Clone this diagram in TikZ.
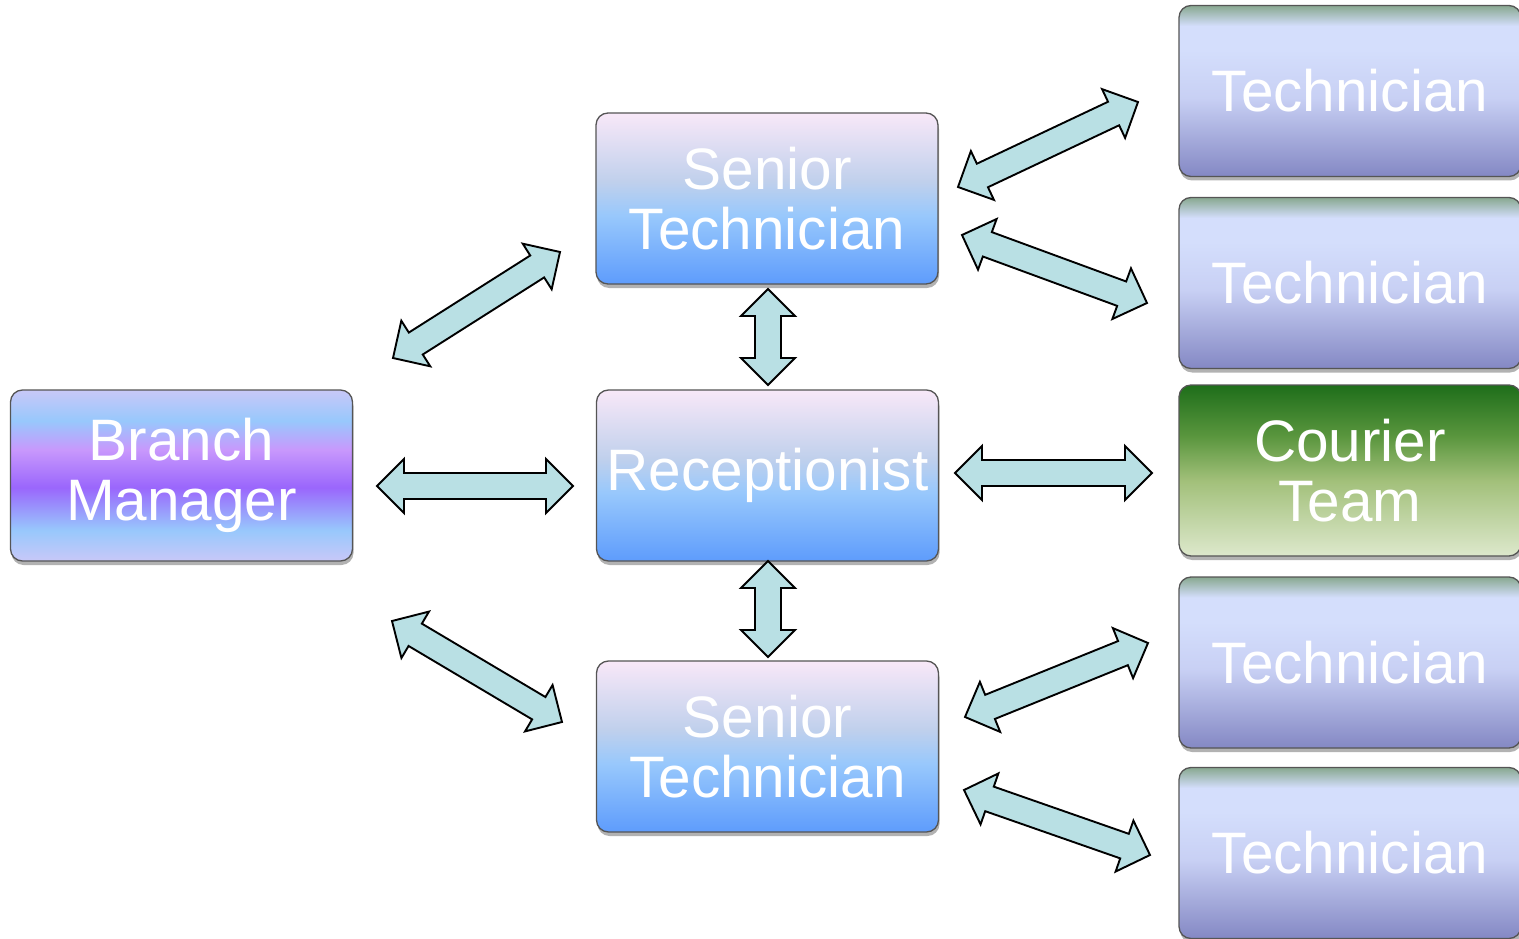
\documentclass[tikz,border=0pt]{standalone}
\usepackage{fontspec}
\setmainfont{Liberation Sans}
\usetikzlibrary{calc,shadows}
\definecolor{bmA}{HTML}{C8C8F8}
\definecolor{bmB}{HTML}{98C8FC}
\definecolor{bmC}{HTML}{C898FC}
\definecolor{bmD}{HTML}{9A66FC}
\definecolor{stA}{HTML}{F8E8F8}
\definecolor{stB}{HTML}{C0D0EC}
\definecolor{stC}{HTML}{98C8FC}
\definecolor{stD}{HTML}{5E9CFC}
\definecolor{tcA}{HTML}{88A890}
\definecolor{tcB}{HTML}{D4DEFC}
\definecolor{tcC}{HTML}{C8D0F4}
\definecolor{tcD}{HTML}{8488C4}
\definecolor{coA}{HTML}{1E6E1A}
\definecolor{coB}{HTML}{5A963E}
\definecolor{coC}{HTML}{A2C07A}
\definecolor{coD}{HTML}{DDE8CC}
\definecolor{arrfill}{HTML}{B9E0E4}
\definecolor{boxline}{HTML}{555555}
\pgfdeclareverticalshading{bmshade}{100bp}{color(0bp)=(bmA); color(25bp)=(bmA); color(34bp)=(bmB); color(46.5bp)=(bmD); color(57.5bp)=(bmC); color(66bp)=(bmB); color(75bp)=(bmA); color(100bp)=(bmA)}
\pgfdeclareverticalshading{stshade}{100bp}{color(0bp)=(stD); color(25bp)=(stD); color(45bp)=(stC); color(55bp)=(stB); color(75bp)=(stA); color(100bp)=(stA)}
\pgfdeclareverticalshading{tcshade}{100bp}{color(0bp)=(tcD); color(25bp)=(tcD); color(48bp)=(tcC); color(62bp)=(tcB); color(69bp)=(tcB); color(75bp)=(tcA); color(100bp)=(tcA)}
\pgfdeclareverticalshading{coshade}{100bp}{color(0bp)=(coD); color(25bp)=(coD); color(47bp)=(coC); color(60bp)=(coB); color(75bp)=(coA); color(100bp)=(coA)}
\tikzset{
  box/.style={draw=boxline, line width=1.3pt, rounded corners=12pt,
    minimum width=342pt, minimum height=171pt, inner sep=0pt, align=center,
    text=white, font=\fontsize{58.5}{60.5}\selectfont,
    drop shadow={shadow xshift=1pt, shadow yshift=-4pt, opacity=0.3, fill=black}},
  bmbox/.style={box, shade, shading=bmshade},
  stbox/.style={box, shade, shading=stshade},
  tcbox/.style={box, shade, shading=tcshade},
  cobox/.style={box, shade, shading=coshade},
  blockarr/.style={fill=arrfill, draw=black, line width=1.9pt, line join=miter}
}
\newcommand\dblarrow[2]{%
  \path ($(#1)!27pt!(#2)$) coordinate (aa) ($(#2)!27pt!(#1)$) coordinate (bb);
  \draw[blockarr] (#1) -- ($(aa)!27pt!90:(#2)$) -- ($(aa)!13pt!90:(#2)$)
    -- ($(bb)!13pt!-90:(#1)$) -- ($(bb)!27pt!-90:(#1)$) -- (#2)
    -- ($(bb)!27pt!90:(#1)$) -- ($(bb)!13pt!90:(#1)$)
    -- ($(aa)!13pt!-90:(#2)$) -- ($(aa)!27pt!-90:(#2)$) -- cycle;}
\begin{document}
\begin{tikzpicture}[x=1pt,y=-1pt]
\path[use as bounding box] (0,0) rectangle (1519,939);
\clip (0,0) rectangle (1519,939);
\node[bmbox] (bm) at (181.5,475.5) {Branch\\Manager};
\node[stbox] (st1) at (767,198.5) {Senior\\Technician};
\node[stbox] (rec) at (767.5,475.5) {Receptionist};
\node[stbox] (st2) at (767.5,746.5) {Senior\\Technician};
\node[tcbox] (t1) at (1350,91) {Technician};
\node[tcbox] (t2) at (1350,283) {Technician};
\node[cobox] (cour) at (1350,470.5) {Courier\\Team};
\node[tcbox] (t3) at (1350,662.5) {Technician};
\node[tcbox] (t4) at (1350,853) {Technician};
% arrow ends
\coordinate (h1a) at (377,486); \coordinate (h1b) at (573,486);
\coordinate (h2a) at (955,473); \coordinate (h2b) at (1152,473);
\coordinate (v1a) at (768,289); \coordinate (v1b) at (768,385);
\coordinate (v2a) at (768,561); \coordinate (v2b) at (768,657);
\coordinate (d1a) at (393,358); \coordinate (d1b) at (560,252);
\coordinate (d2a) at (392,621); \coordinate (d2b) at (562,722);
\coordinate (r1a) at (958,187); \coordinate (r1b) at (1138,102);
\coordinate (r2a) at (962,235); \coordinate (r2b) at (1147,303);
\coordinate (r3a) at (965,717); \coordinate (r3b) at (1148,643);
\coordinate (r4a) at (964,790); \coordinate (r4b) at (1150,855);
\dblarrow{h1a}{h1b}
\dblarrow{h2a}{h2b}
\dblarrow{v1a}{v1b}
\dblarrow{v2a}{v2b}
\dblarrow{d1a}{d1b}
\dblarrow{d2a}{d2b}
\dblarrow{r1a}{r1b}
\dblarrow{r2a}{r2b}
\dblarrow{r3a}{r3b}
\dblarrow{r4a}{r4b}
\end{tikzpicture}
\end{document}
